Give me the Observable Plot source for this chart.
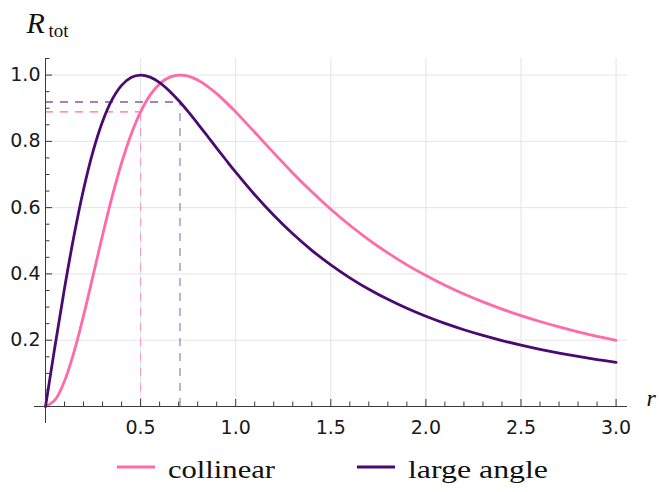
<!DOCTYPE html>
<html>
<head>
<meta charset="utf-8">
<script src="https://cdn.jsdelivr.net/npm/d3@7"></script>
<script src="https://cdn.jsdelivr.net/npm/@observablehq/plot@0.6"></script>
<style>
  html, body { margin: 0; padding: 0; background: #fff; }
  #legend { display: block; }
  .serif { font-family: "Liberation Serif", "Times New Roman", Tinos, Times, serif !important; }
</style>
</head>
<body>
<script>
// Normalised total rate R_tot as a function of r, for the two regimes.
const rValues = [
  0, 0.05, 0.1, 0.15, 0.2, 0.25, 0.3, 0.35, 0.4, 0.45, 0.5,
  0.55, 0.6, 0.65, 0.7, 0.75, 0.8, 0.85, 0.9, 0.95, 1.0,
  1.1, 1.2, 1.3, 1.4, 1.5, 1.6, 1.7, 1.8, 1.9, 2.0,
  2.1, 2.2, 2.3, 2.4, 2.5, 2.6, 2.7, 2.8, 2.9, 3.0
];
const collinear = [
  0, 0.0198, 0.0769, 0.1648, 0.2743, 0.3951, 0.5171, 0.6323, 0.7346, 0.8207, 0.8889,
  0.9394, 0.9735, 0.9930, 0.9999, 0.9965, 0.9849, 0.9669, 0.9440, 0.9176, 0.8889,
  0.8276, 0.7652, 0.7047, 0.6478, 0.5950, 0.5468, 0.5030, 0.4633, 0.4274, 0.3951,
  0.3659, 0.3395, 0.3156, 0.2940, 0.2743, 0.2565, 0.2403, 0.2254, 0.2119, 0.1994
];
const largeAngle = [
  0, 0.1823, 0.3567, 0.5159, 0.6547, 0.7697, 0.8599, 0.9257, 0.9690, 0.9927, 1.0000,
  0.9938, 0.9772, 0.9529, 0.9231, 0.8895, 0.8537, 0.8169, 0.7797, 0.7430, 0.7071,
  0.6390, 0.5769, 0.5210, 0.4713, 0.4273, 0.3883, 0.3538, 0.3233, 0.2962, 0.2721,
  0.2507, 0.2316, 0.2144, 0.1990, 0.1852, 0.1726, 0.1613, 0.1510, 0.1416, 0.1331
];

// Reference points: each curve's value where the other one peaks.
const guideR = [0.5, 0.7071];
const guideV = [0.8889, 0.9186];
const guideSeries = ["collinear", "large angle"];

const seriesNames = ["collinear", "large angle"];
const seriesColors = ["#ff6aa7", "#4b0a6f"];

const xMajor = [0.5, 1.0, 1.5, 2.0, 2.5, 3.0];
const yMajor = [0.2, 0.4, 0.6, 0.8, 1.0];
const xMinor = d3.range(1, 31).map(i => i / 10).filter(v => Math.abs(v * 2 - Math.round(v * 2)) > 1e-6);
const yMinor = d3.range(1, 22).map(i => i / 20).filter(v => Math.abs(v * 5 - Math.round(v * 5)) > 1e-6);

const curves = [
  ...rValues.map((r, i) => ({r, v: collinear[i], series: seriesNames[0]})),
  ...rValues.map((r, i) => ({r, v: largeAngle[i], series: seriesNames[1]}))
];
const guides = guideR.map((r, i) => ({r, v: guideV[i], series: guideSeries[i]}));
const colorOf = s => seriesColors[seriesNames.indexOf(s)];

const W = 659, H = 440;
const mTop = 58, mBottom = 34, mLeft = 45, mRight = 32;
const innerW = W - mLeft - mRight, innerH = H - mTop - mBottom;
const axisColor = "#3a3a3a";
const gridColor = "#e4e4e4";
const sans = "DejaVu Sans, sans-serif";
const serifCss = '"Liberation Serif", "Times New Roman", Tinos, Times, serif';
const axisTitles = ["R", "tot", "r"];

const chart = Plot.plot({
  width: W, height: H,
  marginTop: mTop, marginBottom: mBottom, marginLeft: mLeft, marginRight: mRight,
  x: {domain: [0, 3.06], axis: null},
  y: {domain: [0, 1.05], axis: null},
  style: {background: "#fff", fontFamily: sans, overflow: "visible"},
  marks: [
    // grid
    Plot.ruleX(xMajor, {x: d => d, stroke: gridColor, strokeWidth: 1}),
    Plot.ruleY(yMajor, {y: d => d, stroke: gridColor, strokeWidth: 1}),
    // dashed guides
    Plot.ruleY(guides, {y: "v", x1: 0, x2: "r", stroke: d => colorOf(d.series), strokeWidth: 1.1, strokeDasharray: "8,7"}),
    Plot.ruleX(guides, {x: "r", y1: 0, y2: "v", stroke: d => colorOf(d.series), strokeWidth: 1, strokeDasharray: "8,7", strokeOpacity: 0.65}),
    // curves
    Plot.line(curves, {x: "r", y: "v", z: "series", stroke: d => colorOf(d.series), strokeWidth: 2.8, curve: "catmull-rom"}),
    // axis lines
    Plot.ruleY([0], {stroke: axisColor, strokeWidth: 1, insetLeft: -11}),
    Plot.ruleX([0], {stroke: axisColor, strokeWidth: 1, insetBottom: -17}),
    // ticks
    Plot.tickX(xMajor, {x: d => d, stroke: axisColor, insetTop: innerH - 7}),
    Plot.tickX(xMinor, {x: d => d, stroke: axisColor, insetTop: innerH - 4.5}),
    Plot.tickY(yMajor, {y: d => d, stroke: axisColor, insetRight: innerW - 7}),
    Plot.tickY(yMinor, {y: d => d, stroke: axisColor, insetRight: innerW - 4.5}),
    // tick labels
    Plot.text(xMajor, {x: d => d, frameAnchor: "bottom", dy: 14, lineAnchor: "top", text: d => d.toFixed(1), fontSize: 19, fill: "#1a1a1a"}),
    Plot.text(yMajor, {y: d => d, frameAnchor: "left", dx: -5, textAnchor: "end", text: d => d.toFixed(1), fontSize: 19, fill: "#1a1a1a"}),
    // axis titles
    Plot.text([axisTitles[0]], {frameAnchor: "top-left", dx: -19, dy: -26, lineAnchor: "bottom", textAnchor: "start", fontStyle: "italic", fontSize: 30, fill: "#111"}),
    Plot.text([axisTitles[1]], {frameAnchor: "top-left", dx: 3, dy: -22, lineAnchor: "bottom", textAnchor: "start", fontSize: 19, fill: "#111"}),
    Plot.text([axisTitles[2]], {frameAnchor: "bottom-right", dx: 19, dy: -1, lineAnchor: "bottom", textAnchor: "start", fontStyle: "italic", fontSize: 24, fill: "#111"})
  ]
});
// set the axis titles in a serif face
d3.select(chart).selectAll("text")
  .filter(function() { return axisTitles.includes(this.textContent); })
  .style("font-family", serifCss);
document.body.appendChild(chart);

// Legend below the plot
const legendItems = [
  {name: seriesNames[0], color: seriesColors[0], x: 117, width: 107},
  {name: seriesNames[1], color: seriesColors[1], x: 357, width: 140}
];
const legend = d3.create("svg")
  .attr("id", "legend")
  .attr("width", W).attr("height", 52);
const item = legend.selectAll("g").data(legendItems).join("g")
  .attr("transform", d => `translate(${d.x},27)`);
item.append("line")
  .attr("x1", 0).attr("x2", 38).attr("y1", 0).attr("y2", 0)
  .attr("stroke", d => d.color).attr("stroke-width", 3);
item.append("text")
  .attr("class", "serif")
  .attr("x", 51).attr("y", 11)
  .attr("font-size", 25).attr("fill", "#111")
  .attr("textLength", d => d.width).attr("lengthAdjust", "spacingAndGlyphs")
  .text(d => d.name);
document.body.appendChild(legend.node());
</script>
</body>
</html>
